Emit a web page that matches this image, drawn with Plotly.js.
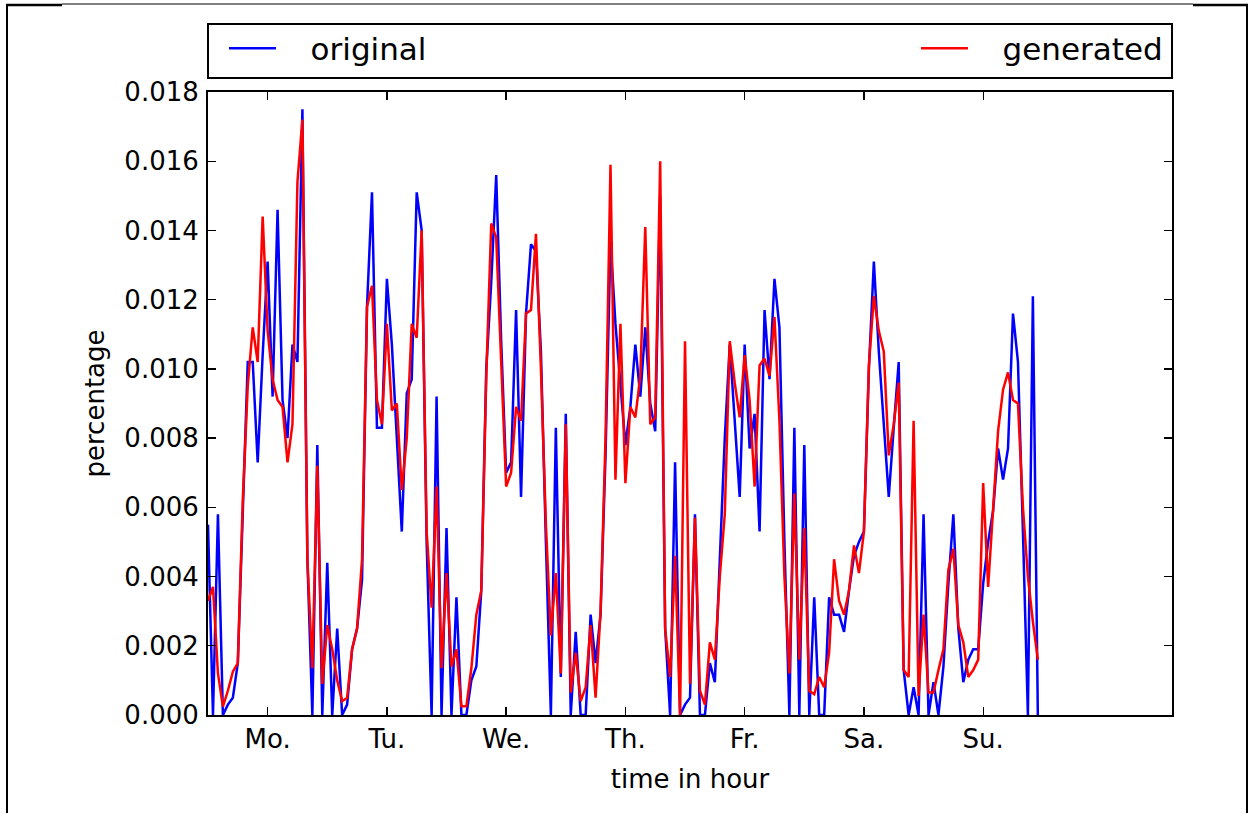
<!DOCTYPE html>
<html>
<head>
<meta charset="utf-8">
<script src="https://cdn.plot.ly/plotly-3.0.1.min.js"></script>
<style>
  html, body { margin: 0; padding: 0; background: #ffffff; }
  #chart { width: 1250px; height: 813px; }
</style>
</head>
<body>
<div id="chart"></div>
<script>
// Hourly share of activity over one week (index = hour 0..167)
const original = [
  0.0055, 0.0000, 0.0058, 0.0000, 0.0003, 0.0005, 0.0015, 0.0061, 0.0102, 0.0102,
  0.0073, 0.0104, 0.0131, 0.0092, 0.0146, 0.0091, 0.0080, 0.0107, 0.0102, 0.0175,
  0.0045, 0.0000, 0.0078, 0.0000, 0.0044, 0.0000, 0.0025, 0.0000, 0.0003, 0.0019,
  0.0025, 0.0039, 0.0118, 0.0151, 0.0083, 0.0083, 0.0126, 0.0107, 0.0080, 0.0053,
  0.0093, 0.0097, 0.0151, 0.0140, 0.0050, 0.0000, 0.0092, 0.0000, 0.0054, 0.0000,
  0.0034, 0.0000, 0.0000, 0.0010, 0.0014, 0.0036, 0.0100, 0.0125, 0.0156, 0.0108,
  0.0070, 0.0073, 0.0117, 0.0063, 0.0116, 0.0136, 0.0134, 0.0105, 0.0050, 0.0000,
  0.0083, 0.0011, 0.0087, 0.0000, 0.0024, 0.0000, 0.0000, 0.0029, 0.0015, 0.0029,
  0.0075, 0.0137, 0.0113, 0.0096, 0.0078, 0.0089, 0.0107, 0.0092, 0.0112, 0.0090,
  0.0082, 0.0150, 0.0025, 0.0000, 0.0073, 0.0000, 0.0003, 0.0005, 0.0058, 0.0000,
  0.0000, 0.0015, 0.00095, 0.0045, 0.0080, 0.0107, 0.0084, 0.0063, 0.0107, 0.0077,
  0.0087, 0.0053, 0.0117, 0.0097, 0.0126, 0.0112, 0.0050, 0.0000, 0.0083, 0.0000,
  0.0078, 0.0000, 0.0034, 0.0000, 0.0000, 0.0034, 0.0029, 0.0029, 0.0024, 0.0036,
  0.0046, 0.0050, 0.0053, 0.0100, 0.0131, 0.0105, 0.0084, 0.0063, 0.0083, 0.0102,
  0.0013, 0.0000, 0.0008, 0.0000, 0.0058, 0.0000, 0.00095, 0.0000, 0.0014, 0.0038,
  0.0058, 0.0025, 0.00095, 0.0016, 0.0019, 0.0019, 0.0038, 0.0050, 0.0059, 0.0077,
  0.0068, 0.0077, 0.0116, 0.0102, 0.0053, 0.0000, 0.0121, 0.0000
];
const generated = [
  0.0033, 0.0037, 0.0012, 0.00024, 0.0007, 0.00125, 0.0015, 0.0062, 0.0095, 0.0112,
  0.0102, 0.0144, 0.0111, 0.0097, 0.0091, 0.0089, 0.0073, 0.0084, 0.0154, 0.0172,
  0.0045, 0.00135, 0.0072, 0.0009, 0.0026, 0.0019, 0.0010, 0.0004, 0.0005, 0.0019,
  0.0025, 0.0045, 0.0118, 0.0124, 0.0091, 0.0084, 0.0113, 0.0088, 0.0090, 0.0065,
  0.0080, 0.0113, 0.0109, 0.0140, 0.0053, 0.0031, 0.0066, 0.00135, 0.0041, 0.0014,
  0.0019, 0.00025, 0.00025, 0.00135, 0.0029, 0.0036, 0.0098, 0.0142, 0.0138, 0.0100,
  0.0066, 0.0070, 0.0089, 0.0085, 0.0116, 0.0117, 0.0139, 0.0100, 0.0055, 0.0023,
  0.0041, 0.0012, 0.0084, 0.00065, 0.0018, 0.0004, 0.0008, 0.0026, 0.0005, 0.0030,
  0.0080, 0.0159, 0.0068, 0.0113, 0.0067, 0.0089, 0.0086, 0.0098, 0.0141, 0.0084,
  0.0086, 0.0160, 0.0025, 0.0011, 0.0046, 0.0000, 0.0108, 0.0009, 0.0057, 0.0007,
  0.0003, 0.0021, 0.0016, 0.0040, 0.0058, 0.0108, 0.0096, 0.0086, 0.0104, 0.0091,
  0.0066, 0.0101, 0.0103, 0.0098, 0.0115, 0.0085, 0.0040, 0.0012, 0.0064, 0.0016,
  0.0054, 0.0007, 0.0006, 0.0011, 0.0008, 0.0018, 0.0045, 0.0033, 0.0029, 0.0036,
  0.0049, 0.0041, 0.0053, 0.0101, 0.0121, 0.0111, 0.0105, 0.0075, 0.0084, 0.0096,
  0.0013, 0.0011, 0.0085, 0.00055, 0.0029, 0.00065, 0.00065, 0.0013, 0.0019, 0.0042,
  0.0048, 0.0026, 0.0021, 0.0011, 0.0013, 0.0016, 0.0067, 0.0037, 0.0058, 0.0082,
  0.0094, 0.0099, 0.0091, 0.0090, 0.0060, 0.0040, 0.0027, 0.0016
];
const dayTickHours = [12, 36, 60, 84, 108, 132, 156];
const dayLabels = ['Mo.', 'Tu.', 'We.', 'Th.', 'Fr.', 'Sa.', 'Su.'];
const seriesNames = ['original', 'generated'];

// ---- layout geometry (pixels) ----
const W = 1250, H = 813;
const PL = 208, PR = 1172, PT = 92, PB = 715;
const px2x = p => (p - PL) / (PR - PL);
const px2y = p => (PB - p) / (PB - PT);

const FONT = 'DejaVu Sans, Bitstream Vera Sans, sans-serif';
const GAP = '\u00a0\u00a0\u00a0'; // visual gap between legend line and label

const traces = [
  { y: original, type: 'scatter', mode: 'lines', name: GAP + seriesNames[0],
    line: { color: '#0000ff', width: 2.5 }, legend: 'legend' },
  { y: generated, type: 'scatter', mode: 'lines', name: GAP + seriesNames[1],
    line: { color: '#ff0000', width: 2.5 }, legend: 'legend2' }
];

const axisCommon = {
  showline: true, linecolor: '#000000', linewidth: 2, mirror: 'ticks',
  ticks: 'inside', ticklen: 8, tickwidth: 1.3, tickcolor: '#000000',
  showgrid: false, zeroline: false,
  tickfont: { family: FONT, size: 26, color: '#000000' }
};

const legendLineY = px2y(48.5);
const legendFont = { family: FONT, size: 31, color: '#000000' };

const layout = {
  width: W, height: H,
  margin: { l: PL, r: W - PR, t: PT, b: H - PB, pad: 0 },
  paper_bgcolor: '#ffffff', plot_bgcolor: '#ffffff',
  font: { family: FONT, color: '#000000' },
  xaxis: Object.assign({}, axisCommon, {
    range: [0, 194], tickmode: 'array', tickvals: dayTickHours, ticktext: dayLabels,
    title: { text: 'time in hour', font: { family: FONT, size: 26, color: '#000000' }, standoff: 17 }
  }),
  yaxis: Object.assign({}, axisCommon, {
    range: [0, 0.018], dtick: 0.002, tick0: 0, tickformat: '.3f', ticklabelstandoff: 2,
    title: { text: 'percentage', font: { family: FONT, size: 26, color: '#000000' }, standoff: 12 }
  }),
  showlegend: true,
  legend: {
    x: px2x(224), xanchor: 'left', y: legendLineY, yanchor: 'middle',
    orientation: 'h', bgcolor: 'rgba(0,0,0,0)', borderwidth: 0,
    font: legendFont, itemwidth: 47
  },
  legend2: {
    x: px2x(1168), xanchor: 'right', y: legendLineY, yanchor: 'middle',
    orientation: 'h', bgcolor: 'rgba(0,0,0,0)', borderwidth: 0,
    font: legendFont, itemwidth: 47
  },
  shapes: [
    // legend frame spanning the axes width
    { type: 'rect', xref: 'paper', yref: 'paper', x0: 0, x1: 1, y0: px2y(78), y1: px2y(24),
      line: { color: '#000000', width: 2 }, fillcolor: 'rgba(0,0,0,0)' },
    // page border artefacts
    { type: 'line', xref: 'paper', yref: 'paper', x0: px2x(7), x1: px2x(7), y0: px2y(4), y1: px2y(813),
      line: { color: '#000000', width: 2 } },
    { type: 'line', xref: 'paper', yref: 'paper', x0: px2x(1247), x1: px2x(1247), y0: px2y(4), y1: px2y(813),
      line: { color: '#000000', width: 2 } },
    { type: 'line', xref: 'paper', yref: 'paper', x0: px2x(62), x1: px2x(1193), y0: px2y(4), y1: px2y(4),
      line: { color: '#000000', width: 1 } },
    { type: 'line', xref: 'paper', yref: 'paper', x0: px2x(6), x1: px2x(62), y0: px2y(5), y1: px2y(5),
      line: { color: '#000000', width: 2.5 } },
    { type: 'line', xref: 'paper', yref: 'paper', x0: px2x(1193), x1: px2x(1248), y0: px2y(5), y1: px2y(5),
      line: { color: '#000000', width: 2.5 } }
  ]
};

Plotly.newPlot('chart', traces, layout, { staticPlot: true, displayModeBar: false });
</script>
</body>
</html>
